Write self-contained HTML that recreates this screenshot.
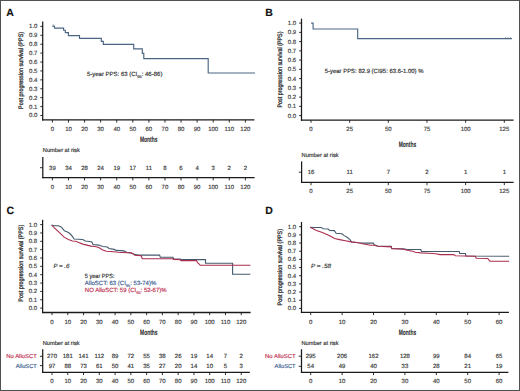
<!DOCTYPE html>
<html><head><meta charset="utf-8"><title>PPS figure</title>
<style>
html,body{margin:0;padding:0;background:#fff;}
body{width:520px;height:391px;overflow:hidden;}
svg{display:block;font-family:"Liberation Sans", sans-serif;text-rendering:geometricPrecision;}
</style></head>
<body>
<svg width="520" height="391" viewBox="0 0 520 391">
<rect x="0" y="0" width="520" height="391" fill="#fff"/>
<rect x="0.5" y="0.5" width="519" height="390" fill="none" stroke="#505050" stroke-width="1"/>
<text x="6.3" y="15.7" font-size="10.5" text-anchor="start" fill="#111" stroke="#111" stroke-width="0.15" font-weight="bold" >A</text>
<line x1="42.7" y1="21.5" x2="42.7" y2="120.55" stroke="#1a1a1a" stroke-width="1.25"/>
<line x1="42.1" y1="119.9" x2="254.4" y2="119.9" stroke="#1a1a1a" stroke-width="1.3"/>
<line x1="40.3" y1="26.4" x2="42.7" y2="26.4" stroke="#1a1a1a" stroke-width="0.9"/>
<text x="37.4" y="28.31" font-size="6" text-anchor="end" fill="#3a3a3a" stroke="#3a3a3a" stroke-width="0.15" >1.0</text>
<line x1="40.3" y1="35.31" x2="42.7" y2="35.31" stroke="#1a1a1a" stroke-width="0.9"/>
<text x="37.4" y="37.22" font-size="6" text-anchor="end" fill="#3a3a3a" stroke="#3a3a3a" stroke-width="0.15" >0.9</text>
<line x1="40.3" y1="44.22" x2="42.7" y2="44.22" stroke="#1a1a1a" stroke-width="0.9"/>
<text x="37.4" y="46.13" font-size="6" text-anchor="end" fill="#3a3a3a" stroke="#3a3a3a" stroke-width="0.15" >0.8</text>
<line x1="40.3" y1="53.13" x2="42.7" y2="53.13" stroke="#1a1a1a" stroke-width="0.9"/>
<text x="37.4" y="55.04" font-size="6" text-anchor="end" fill="#3a3a3a" stroke="#3a3a3a" stroke-width="0.15" >0.7</text>
<line x1="40.3" y1="62.04" x2="42.7" y2="62.04" stroke="#1a1a1a" stroke-width="0.9"/>
<text x="37.4" y="63.95" font-size="6" text-anchor="end" fill="#3a3a3a" stroke="#3a3a3a" stroke-width="0.15" >0.6</text>
<line x1="40.3" y1="70.95" x2="42.7" y2="70.95" stroke="#1a1a1a" stroke-width="0.9"/>
<text x="37.4" y="72.86" font-size="6" text-anchor="end" fill="#3a3a3a" stroke="#3a3a3a" stroke-width="0.15" >0.5</text>
<line x1="40.3" y1="79.86" x2="42.7" y2="79.86" stroke="#1a1a1a" stroke-width="0.9"/>
<text x="37.4" y="81.77" font-size="6" text-anchor="end" fill="#3a3a3a" stroke="#3a3a3a" stroke-width="0.15" >0.4</text>
<line x1="40.3" y1="88.77" x2="42.7" y2="88.77" stroke="#1a1a1a" stroke-width="0.9"/>
<text x="37.4" y="90.68" font-size="6" text-anchor="end" fill="#3a3a3a" stroke="#3a3a3a" stroke-width="0.15" >0.3</text>
<line x1="40.3" y1="97.68" x2="42.7" y2="97.68" stroke="#1a1a1a" stroke-width="0.9"/>
<text x="37.4" y="99.59" font-size="6" text-anchor="end" fill="#3a3a3a" stroke="#3a3a3a" stroke-width="0.15" >0.2</text>
<line x1="40.3" y1="106.59" x2="42.7" y2="106.59" stroke="#1a1a1a" stroke-width="0.9"/>
<text x="37.4" y="108.5" font-size="6" text-anchor="end" fill="#3a3a3a" stroke="#3a3a3a" stroke-width="0.15" >0.1</text>
<line x1="40.3" y1="115.5" x2="42.7" y2="115.5" stroke="#1a1a1a" stroke-width="0.9"/>
<text x="37.4" y="117.41" font-size="6" text-anchor="end" fill="#3a3a3a" stroke="#3a3a3a" stroke-width="0.15" >0.0</text>
<line x1="52.4" y1="119.9" x2="52.4" y2="122.6" stroke="#1a1a1a" stroke-width="0.9"/>
<text x="52.4" y="131.06" font-size="6" text-anchor="middle" fill="#3a3a3a" stroke="#3a3a3a" stroke-width="0.15" >0</text>
<line x1="68.48" y1="119.9" x2="68.48" y2="122.6" stroke="#1a1a1a" stroke-width="0.9"/>
<text x="68.48" y="131.06" font-size="6" text-anchor="middle" fill="#3a3a3a" stroke="#3a3a3a" stroke-width="0.15" >10</text>
<line x1="84.56" y1="119.9" x2="84.56" y2="122.6" stroke="#1a1a1a" stroke-width="0.9"/>
<text x="84.56" y="131.06" font-size="6" text-anchor="middle" fill="#3a3a3a" stroke="#3a3a3a" stroke-width="0.15" >20</text>
<line x1="100.64" y1="119.9" x2="100.64" y2="122.6" stroke="#1a1a1a" stroke-width="0.9"/>
<text x="100.64" y="131.06" font-size="6" text-anchor="middle" fill="#3a3a3a" stroke="#3a3a3a" stroke-width="0.15" >30</text>
<line x1="116.72" y1="119.9" x2="116.72" y2="122.6" stroke="#1a1a1a" stroke-width="0.9"/>
<text x="116.72" y="131.06" font-size="6" text-anchor="middle" fill="#3a3a3a" stroke="#3a3a3a" stroke-width="0.15" >40</text>
<line x1="132.8" y1="119.9" x2="132.8" y2="122.6" stroke="#1a1a1a" stroke-width="0.9"/>
<text x="132.8" y="131.06" font-size="6" text-anchor="middle" fill="#3a3a3a" stroke="#3a3a3a" stroke-width="0.15" >50</text>
<line x1="148.88" y1="119.9" x2="148.88" y2="122.6" stroke="#1a1a1a" stroke-width="0.9"/>
<text x="148.88" y="131.06" font-size="6" text-anchor="middle" fill="#3a3a3a" stroke="#3a3a3a" stroke-width="0.15" >60</text>
<line x1="164.96" y1="119.9" x2="164.96" y2="122.6" stroke="#1a1a1a" stroke-width="0.9"/>
<text x="164.96" y="131.06" font-size="6" text-anchor="middle" fill="#3a3a3a" stroke="#3a3a3a" stroke-width="0.15" >70</text>
<line x1="181.04" y1="119.9" x2="181.04" y2="122.6" stroke="#1a1a1a" stroke-width="0.9"/>
<text x="181.04" y="131.06" font-size="6" text-anchor="middle" fill="#3a3a3a" stroke="#3a3a3a" stroke-width="0.15" >80</text>
<line x1="197.12" y1="119.9" x2="197.12" y2="122.6" stroke="#1a1a1a" stroke-width="0.9"/>
<text x="197.12" y="131.06" font-size="6" text-anchor="middle" fill="#3a3a3a" stroke="#3a3a3a" stroke-width="0.15" >90</text>
<line x1="213.2" y1="119.9" x2="213.2" y2="122.6" stroke="#1a1a1a" stroke-width="0.9"/>
<text x="213.2" y="131.06" font-size="6" text-anchor="middle" fill="#3a3a3a" stroke="#3a3a3a" stroke-width="0.15" >100</text>
<line x1="229.28" y1="119.9" x2="229.28" y2="122.6" stroke="#1a1a1a" stroke-width="0.9"/>
<text x="229.28" y="131.06" font-size="6" text-anchor="middle" fill="#3a3a3a" stroke="#3a3a3a" stroke-width="0.15" >110</text>
<line x1="245.36" y1="119.9" x2="245.36" y2="122.6" stroke="#1a1a1a" stroke-width="0.9"/>
<text x="245.36" y="131.06" font-size="6" text-anchor="middle" fill="#3a3a3a" stroke="#3a3a3a" stroke-width="0.15" >120</text>
<text x="148.7" y="141.81" font-size="7.8" text-anchor="middle" fill="#222" stroke="#222" stroke-width="0.05" font-weight="bold" textLength="17.5" lengthAdjust="spacingAndGlyphs" >Months</text>
<text x="0" y="0" font-size="6.5" text-anchor="middle" fill="#2a2a2a" stroke="#2a2a2a" stroke-width="0.28" textLength="77" lengthAdjust="spacingAndGlyphs" transform="translate(22.8,70.4) rotate(-90)">Post progression survival (PPS)</text>
<polyline points="52.3,26.2 54.5,26.2 54.5,28.1 63.6,28.1 63.6,30.2 65.3,30.2 65.3,32.6 68.4,32.6 68.4,35.6 79.5,35.6 79.5,38.3 101.3,38.3 101.3,41.3 103.3,41.3 103.3,44.4 133.7,44.4 133.7,48.9 142.3,48.9 142.3,53.3 143.8,53.3 143.8,58.6 208.2,58.6 208.2,73 255,73 255,73" fill="none" stroke="#4b6684" stroke-width="1.15" stroke-linejoin="miter"/>
<line x1="53.1" y1="24.6" x2="53.1" y2="26.4" stroke="#4b6684" stroke-width="0.8"/>
<text x="86.9" y="76.16" font-size="6" text-anchor="start" fill="#2a2a2a" stroke="#2a2a2a" stroke-width="0.15" >5-year PPS: 63 (CI<tspan font-size="4" dy="1.5">95</tspan><tspan dy="-1.5">: 46-86)</tspan></text>
<text x="42.8" y="152.49" font-size="5.8" text-anchor="start" fill="#2a2a2a" stroke="#2a2a2a" stroke-width="0.15" textLength="37" lengthAdjust="spacingAndGlyphs" >Number at risk</text>
<line x1="42.8" y1="157" x2="42.8" y2="178.25" stroke="#1a1a1a" stroke-width="1.25"/>
<line x1="42.2" y1="177.6" x2="254.6" y2="177.6" stroke="#1a1a1a" stroke-width="1.3"/>
<line x1="40" y1="167.7" x2="42.8" y2="167.7" stroke="#1a1a1a" stroke-width="0.9"/>
<text x="52.4" y="169.81" font-size="6" text-anchor="middle" fill="#333" stroke="#333" stroke-width="0.15" >39</text>
<text x="68.48" y="169.81" font-size="6" text-anchor="middle" fill="#333" stroke="#333" stroke-width="0.15" >34</text>
<text x="84.56" y="169.81" font-size="6" text-anchor="middle" fill="#333" stroke="#333" stroke-width="0.15" >28</text>
<text x="100.64" y="169.81" font-size="6" text-anchor="middle" fill="#333" stroke="#333" stroke-width="0.15" >24</text>
<text x="116.72" y="169.81" font-size="6" text-anchor="middle" fill="#333" stroke="#333" stroke-width="0.15" >19</text>
<text x="132.8" y="169.81" font-size="6" text-anchor="middle" fill="#333" stroke="#333" stroke-width="0.15" >17</text>
<text x="148.88" y="169.81" font-size="6" text-anchor="middle" fill="#333" stroke="#333" stroke-width="0.15" >11</text>
<text x="164.96" y="169.81" font-size="6" text-anchor="middle" fill="#333" stroke="#333" stroke-width="0.15" >8</text>
<text x="181.04" y="169.81" font-size="6" text-anchor="middle" fill="#333" stroke="#333" stroke-width="0.15" >6</text>
<text x="197.12" y="169.81" font-size="6" text-anchor="middle" fill="#333" stroke="#333" stroke-width="0.15" >4</text>
<text x="213.2" y="169.81" font-size="6" text-anchor="middle" fill="#333" stroke="#333" stroke-width="0.15" >3</text>
<text x="229.28" y="169.81" font-size="6" text-anchor="middle" fill="#333" stroke="#333" stroke-width="0.15" >2</text>
<text x="245.36" y="169.81" font-size="6" text-anchor="middle" fill="#333" stroke="#333" stroke-width="0.15" >2</text>
<line x1="52.4" y1="177.6" x2="52.4" y2="180.4" stroke="#1a1a1a" stroke-width="0.9"/>
<text x="52.4" y="188.96" font-size="6" text-anchor="middle" fill="#3a3a3a" stroke="#3a3a3a" stroke-width="0.15" >0</text>
<line x1="68.48" y1="177.6" x2="68.48" y2="180.4" stroke="#1a1a1a" stroke-width="0.9"/>
<text x="68.48" y="188.96" font-size="6" text-anchor="middle" fill="#3a3a3a" stroke="#3a3a3a" stroke-width="0.15" >10</text>
<line x1="84.56" y1="177.6" x2="84.56" y2="180.4" stroke="#1a1a1a" stroke-width="0.9"/>
<text x="84.56" y="188.96" font-size="6" text-anchor="middle" fill="#3a3a3a" stroke="#3a3a3a" stroke-width="0.15" >20</text>
<line x1="100.64" y1="177.6" x2="100.64" y2="180.4" stroke="#1a1a1a" stroke-width="0.9"/>
<text x="100.64" y="188.96" font-size="6" text-anchor="middle" fill="#3a3a3a" stroke="#3a3a3a" stroke-width="0.15" >30</text>
<line x1="116.72" y1="177.6" x2="116.72" y2="180.4" stroke="#1a1a1a" stroke-width="0.9"/>
<text x="116.72" y="188.96" font-size="6" text-anchor="middle" fill="#3a3a3a" stroke="#3a3a3a" stroke-width="0.15" >40</text>
<line x1="132.8" y1="177.6" x2="132.8" y2="180.4" stroke="#1a1a1a" stroke-width="0.9"/>
<text x="132.8" y="188.96" font-size="6" text-anchor="middle" fill="#3a3a3a" stroke="#3a3a3a" stroke-width="0.15" >50</text>
<line x1="148.88" y1="177.6" x2="148.88" y2="180.4" stroke="#1a1a1a" stroke-width="0.9"/>
<text x="148.88" y="188.96" font-size="6" text-anchor="middle" fill="#3a3a3a" stroke="#3a3a3a" stroke-width="0.15" >60</text>
<line x1="164.96" y1="177.6" x2="164.96" y2="180.4" stroke="#1a1a1a" stroke-width="0.9"/>
<text x="164.96" y="188.96" font-size="6" text-anchor="middle" fill="#3a3a3a" stroke="#3a3a3a" stroke-width="0.15" >70</text>
<line x1="181.04" y1="177.6" x2="181.04" y2="180.4" stroke="#1a1a1a" stroke-width="0.9"/>
<text x="181.04" y="188.96" font-size="6" text-anchor="middle" fill="#3a3a3a" stroke="#3a3a3a" stroke-width="0.15" >80</text>
<line x1="197.12" y1="177.6" x2="197.12" y2="180.4" stroke="#1a1a1a" stroke-width="0.9"/>
<text x="197.12" y="188.96" font-size="6" text-anchor="middle" fill="#3a3a3a" stroke="#3a3a3a" stroke-width="0.15" >90</text>
<line x1="213.2" y1="177.6" x2="213.2" y2="180.4" stroke="#1a1a1a" stroke-width="0.9"/>
<text x="213.2" y="188.96" font-size="6" text-anchor="middle" fill="#3a3a3a" stroke="#3a3a3a" stroke-width="0.15" >100</text>
<line x1="229.28" y1="177.6" x2="229.28" y2="180.4" stroke="#1a1a1a" stroke-width="0.9"/>
<text x="229.28" y="188.96" font-size="6" text-anchor="middle" fill="#3a3a3a" stroke="#3a3a3a" stroke-width="0.15" >110</text>
<line x1="245.36" y1="177.6" x2="245.36" y2="180.4" stroke="#1a1a1a" stroke-width="0.9"/>
<text x="245.36" y="188.96" font-size="6" text-anchor="middle" fill="#3a3a3a" stroke="#3a3a3a" stroke-width="0.15" >120</text>
<text x="265.2" y="15.7" font-size="10.5" text-anchor="start" fill="#111" stroke="#111" stroke-width="0.15" font-weight="bold" >B</text>
<line x1="301.5" y1="18.6" x2="301.5" y2="120.75" stroke="#1a1a1a" stroke-width="1.25"/>
<line x1="300.9" y1="120.1" x2="513.6" y2="120.1" stroke="#1a1a1a" stroke-width="1.3"/>
<line x1="299.1" y1="23.1" x2="301.5" y2="23.1" stroke="#1a1a1a" stroke-width="0.9"/>
<text x="296.2" y="25.01" font-size="6" text-anchor="end" fill="#3a3a3a" stroke="#3a3a3a" stroke-width="0.15" >1.0</text>
<line x1="299.1" y1="32.35" x2="301.5" y2="32.35" stroke="#1a1a1a" stroke-width="0.9"/>
<text x="296.2" y="34.26" font-size="6" text-anchor="end" fill="#3a3a3a" stroke="#3a3a3a" stroke-width="0.15" >0.9</text>
<line x1="299.1" y1="41.6" x2="301.5" y2="41.6" stroke="#1a1a1a" stroke-width="0.9"/>
<text x="296.2" y="43.51" font-size="6" text-anchor="end" fill="#3a3a3a" stroke="#3a3a3a" stroke-width="0.15" >0.8</text>
<line x1="299.1" y1="50.85" x2="301.5" y2="50.85" stroke="#1a1a1a" stroke-width="0.9"/>
<text x="296.2" y="52.76" font-size="6" text-anchor="end" fill="#3a3a3a" stroke="#3a3a3a" stroke-width="0.15" >0.7</text>
<line x1="299.1" y1="60.1" x2="301.5" y2="60.1" stroke="#1a1a1a" stroke-width="0.9"/>
<text x="296.2" y="62.01" font-size="6" text-anchor="end" fill="#3a3a3a" stroke="#3a3a3a" stroke-width="0.15" >0.6</text>
<line x1="299.1" y1="69.35" x2="301.5" y2="69.35" stroke="#1a1a1a" stroke-width="0.9"/>
<text x="296.2" y="71.26" font-size="6" text-anchor="end" fill="#3a3a3a" stroke="#3a3a3a" stroke-width="0.15" >0.5</text>
<line x1="299.1" y1="78.6" x2="301.5" y2="78.6" stroke="#1a1a1a" stroke-width="0.9"/>
<text x="296.2" y="80.51" font-size="6" text-anchor="end" fill="#3a3a3a" stroke="#3a3a3a" stroke-width="0.15" >0.4</text>
<line x1="299.1" y1="87.85" x2="301.5" y2="87.85" stroke="#1a1a1a" stroke-width="0.9"/>
<text x="296.2" y="89.76" font-size="6" text-anchor="end" fill="#3a3a3a" stroke="#3a3a3a" stroke-width="0.15" >0.3</text>
<line x1="299.1" y1="97.1" x2="301.5" y2="97.1" stroke="#1a1a1a" stroke-width="0.9"/>
<text x="296.2" y="99.01" font-size="6" text-anchor="end" fill="#3a3a3a" stroke="#3a3a3a" stroke-width="0.15" >0.2</text>
<line x1="299.1" y1="106.35" x2="301.5" y2="106.35" stroke="#1a1a1a" stroke-width="0.9"/>
<text x="296.2" y="108.26" font-size="6" text-anchor="end" fill="#3a3a3a" stroke="#3a3a3a" stroke-width="0.15" >0.1</text>
<line x1="299.1" y1="115.6" x2="301.5" y2="115.6" stroke="#1a1a1a" stroke-width="0.9"/>
<text x="296.2" y="117.51" font-size="6" text-anchor="end" fill="#3a3a3a" stroke="#3a3a3a" stroke-width="0.15" >0.0</text>
<line x1="311" y1="120.1" x2="311" y2="122.8" stroke="#1a1a1a" stroke-width="0.9"/>
<text x="311" y="131.26" font-size="6" text-anchor="middle" fill="#3a3a3a" stroke="#3a3a3a" stroke-width="0.15" >0</text>
<line x1="349.66" y1="120.1" x2="349.66" y2="122.8" stroke="#1a1a1a" stroke-width="0.9"/>
<text x="349.66" y="131.26" font-size="6" text-anchor="middle" fill="#3a3a3a" stroke="#3a3a3a" stroke-width="0.15" >25</text>
<line x1="388.32" y1="120.1" x2="388.32" y2="122.8" stroke="#1a1a1a" stroke-width="0.9"/>
<text x="388.32" y="131.26" font-size="6" text-anchor="middle" fill="#3a3a3a" stroke="#3a3a3a" stroke-width="0.15" >50</text>
<line x1="426.98" y1="120.1" x2="426.98" y2="122.8" stroke="#1a1a1a" stroke-width="0.9"/>
<text x="426.98" y="131.26" font-size="6" text-anchor="middle" fill="#3a3a3a" stroke="#3a3a3a" stroke-width="0.15" >75</text>
<line x1="465.64" y1="120.1" x2="465.64" y2="122.8" stroke="#1a1a1a" stroke-width="0.9"/>
<text x="465.64" y="131.26" font-size="6" text-anchor="middle" fill="#3a3a3a" stroke="#3a3a3a" stroke-width="0.15" >100</text>
<line x1="504.3" y1="120.1" x2="504.3" y2="122.8" stroke="#1a1a1a" stroke-width="0.9"/>
<text x="504.3" y="131.26" font-size="6" text-anchor="middle" fill="#3a3a3a" stroke="#3a3a3a" stroke-width="0.15" >125</text>
<text x="407.4" y="146.51" font-size="7.8" text-anchor="middle" fill="#222" stroke="#222" stroke-width="0.05" font-weight="bold" textLength="17.5" lengthAdjust="spacingAndGlyphs" >Months</text>
<text x="0" y="0" font-size="6.5" text-anchor="middle" fill="#2a2a2a" stroke="#2a2a2a" stroke-width="0.28" textLength="76" lengthAdjust="spacingAndGlyphs" transform="translate(282.1,69.5) rotate(-90)">Post progression survival (PPS)</text>
<polyline points="311.1,23.1 313.1,23.1 313.1,29 357.7,29 357.7,38.6 511.9,38.6 511.9,38.6" fill="none" stroke="#4b6684" stroke-width="1.15" stroke-linejoin="miter"/>
<line x1="505.5" y1="37.3" x2="505.5" y2="38.6" stroke="#4b6684" stroke-width="0.7"/>
<line x1="508" y1="37.3" x2="508" y2="38.6" stroke="#4b6684" stroke-width="0.7"/>
<line x1="510.5" y1="37.3" x2="510.5" y2="38.6" stroke="#4b6684" stroke-width="0.7"/>
<text x="324.7" y="73.26" font-size="6" text-anchor="start" fill="#2a2a2a" stroke="#2a2a2a" stroke-width="0.15" textLength="98.8" lengthAdjust="spacingAndGlyphs" >5-year PPS: 82.9 (CI95: 63.6-1.00) %</text>
<text x="301.6" y="157.09" font-size="5.8" text-anchor="start" fill="#2a2a2a" stroke="#2a2a2a" stroke-width="0.15" textLength="37" lengthAdjust="spacingAndGlyphs" >Number at risk</text>
<line x1="301.6" y1="161.4" x2="301.6" y2="183.05" stroke="#1a1a1a" stroke-width="1.25"/>
<line x1="301" y1="182.4" x2="513.6" y2="182.4" stroke="#1a1a1a" stroke-width="1.3"/>
<line x1="298.8" y1="172.2" x2="301.6" y2="172.2" stroke="#1a1a1a" stroke-width="0.9"/>
<text x="311" y="174.31" font-size="6" text-anchor="middle" fill="#333" stroke="#333" stroke-width="0.15" >16</text>
<text x="349.66" y="174.31" font-size="6" text-anchor="middle" fill="#333" stroke="#333" stroke-width="0.15" >11</text>
<text x="388.32" y="174.31" font-size="6" text-anchor="middle" fill="#333" stroke="#333" stroke-width="0.15" >7</text>
<text x="426.98" y="174.31" font-size="6" text-anchor="middle" fill="#333" stroke="#333" stroke-width="0.15" >2</text>
<text x="465.64" y="174.31" font-size="6" text-anchor="middle" fill="#333" stroke="#333" stroke-width="0.15" >1</text>
<text x="504.3" y="174.31" font-size="6" text-anchor="middle" fill="#333" stroke="#333" stroke-width="0.15" >1</text>
<line x1="311" y1="182.4" x2="311" y2="185.2" stroke="#1a1a1a" stroke-width="0.9"/>
<text x="311" y="193.16" font-size="6" text-anchor="middle" fill="#3a3a3a" stroke="#3a3a3a" stroke-width="0.15" >0</text>
<line x1="349.66" y1="182.4" x2="349.66" y2="185.2" stroke="#1a1a1a" stroke-width="0.9"/>
<text x="349.66" y="193.16" font-size="6" text-anchor="middle" fill="#3a3a3a" stroke="#3a3a3a" stroke-width="0.15" >25</text>
<line x1="388.32" y1="182.4" x2="388.32" y2="185.2" stroke="#1a1a1a" stroke-width="0.9"/>
<text x="388.32" y="193.16" font-size="6" text-anchor="middle" fill="#3a3a3a" stroke="#3a3a3a" stroke-width="0.15" >50</text>
<line x1="426.98" y1="182.4" x2="426.98" y2="185.2" stroke="#1a1a1a" stroke-width="0.9"/>
<text x="426.98" y="193.16" font-size="6" text-anchor="middle" fill="#3a3a3a" stroke="#3a3a3a" stroke-width="0.15" >75</text>
<line x1="465.64" y1="182.4" x2="465.64" y2="185.2" stroke="#1a1a1a" stroke-width="0.9"/>
<text x="465.64" y="193.16" font-size="6" text-anchor="middle" fill="#3a3a3a" stroke="#3a3a3a" stroke-width="0.15" >100</text>
<line x1="504.3" y1="182.4" x2="504.3" y2="185.2" stroke="#1a1a1a" stroke-width="0.9"/>
<text x="504.3" y="193.16" font-size="6" text-anchor="middle" fill="#3a3a3a" stroke="#3a3a3a" stroke-width="0.15" >125</text>
<text x="6.5" y="213.9" font-size="10.5" text-anchor="start" fill="#111" stroke="#111" stroke-width="0.15" font-weight="bold" >C</text>
<line x1="42.6" y1="219.8" x2="42.6" y2="313.15" stroke="#1a1a1a" stroke-width="1.25"/>
<line x1="42" y1="312.5" x2="250.6" y2="312.5" stroke="#1a1a1a" stroke-width="1.3"/>
<line x1="40.2" y1="224.6" x2="42.6" y2="224.6" stroke="#1a1a1a" stroke-width="0.9"/>
<text x="37" y="226.51" font-size="6" text-anchor="end" fill="#3a3a3a" stroke="#3a3a3a" stroke-width="0.15" >1.0</text>
<line x1="40.2" y1="232.95" x2="42.6" y2="232.95" stroke="#1a1a1a" stroke-width="0.9"/>
<text x="37" y="234.86" font-size="6" text-anchor="end" fill="#3a3a3a" stroke="#3a3a3a" stroke-width="0.15" >0.9</text>
<line x1="40.2" y1="241.3" x2="42.6" y2="241.3" stroke="#1a1a1a" stroke-width="0.9"/>
<text x="37" y="243.21" font-size="6" text-anchor="end" fill="#3a3a3a" stroke="#3a3a3a" stroke-width="0.15" >0.8</text>
<line x1="40.2" y1="249.65" x2="42.6" y2="249.65" stroke="#1a1a1a" stroke-width="0.9"/>
<text x="37" y="251.56" font-size="6" text-anchor="end" fill="#3a3a3a" stroke="#3a3a3a" stroke-width="0.15" >0.7</text>
<line x1="40.2" y1="258" x2="42.6" y2="258" stroke="#1a1a1a" stroke-width="0.9"/>
<text x="37" y="259.91" font-size="6" text-anchor="end" fill="#3a3a3a" stroke="#3a3a3a" stroke-width="0.15" >0.6</text>
<line x1="40.2" y1="266.35" x2="42.6" y2="266.35" stroke="#1a1a1a" stroke-width="0.9"/>
<text x="37" y="268.26" font-size="6" text-anchor="end" fill="#3a3a3a" stroke="#3a3a3a" stroke-width="0.15" >0.5</text>
<line x1="40.2" y1="274.7" x2="42.6" y2="274.7" stroke="#1a1a1a" stroke-width="0.9"/>
<text x="37" y="276.61" font-size="6" text-anchor="end" fill="#3a3a3a" stroke="#3a3a3a" stroke-width="0.15" >0.4</text>
<line x1="40.2" y1="283.05" x2="42.6" y2="283.05" stroke="#1a1a1a" stroke-width="0.9"/>
<text x="37" y="284.96" font-size="6" text-anchor="end" fill="#3a3a3a" stroke="#3a3a3a" stroke-width="0.15" >0.3</text>
<line x1="40.2" y1="291.4" x2="42.6" y2="291.4" stroke="#1a1a1a" stroke-width="0.9"/>
<text x="37" y="293.31" font-size="6" text-anchor="end" fill="#3a3a3a" stroke="#3a3a3a" stroke-width="0.15" >0.2</text>
<line x1="40.2" y1="299.75" x2="42.6" y2="299.75" stroke="#1a1a1a" stroke-width="0.9"/>
<text x="37" y="301.66" font-size="6" text-anchor="end" fill="#3a3a3a" stroke="#3a3a3a" stroke-width="0.15" >0.1</text>
<line x1="40.2" y1="308.1" x2="42.6" y2="308.1" stroke="#1a1a1a" stroke-width="0.9"/>
<text x="37" y="310.01" font-size="6" text-anchor="end" fill="#3a3a3a" stroke="#3a3a3a" stroke-width="0.15" >0.0</text>
<line x1="52" y1="312.5" x2="52" y2="315.2" stroke="#1a1a1a" stroke-width="0.9"/>
<text x="52" y="323.66" font-size="6" text-anchor="middle" fill="#3a3a3a" stroke="#3a3a3a" stroke-width="0.15" >0</text>
<line x1="67.77" y1="312.5" x2="67.77" y2="315.2" stroke="#1a1a1a" stroke-width="0.9"/>
<text x="67.77" y="323.66" font-size="6" text-anchor="middle" fill="#3a3a3a" stroke="#3a3a3a" stroke-width="0.15" >10</text>
<line x1="83.54" y1="312.5" x2="83.54" y2="315.2" stroke="#1a1a1a" stroke-width="0.9"/>
<text x="83.54" y="323.66" font-size="6" text-anchor="middle" fill="#3a3a3a" stroke="#3a3a3a" stroke-width="0.15" >20</text>
<line x1="99.31" y1="312.5" x2="99.31" y2="315.2" stroke="#1a1a1a" stroke-width="0.9"/>
<text x="99.31" y="323.66" font-size="6" text-anchor="middle" fill="#3a3a3a" stroke="#3a3a3a" stroke-width="0.15" >30</text>
<line x1="115.08" y1="312.5" x2="115.08" y2="315.2" stroke="#1a1a1a" stroke-width="0.9"/>
<text x="115.08" y="323.66" font-size="6" text-anchor="middle" fill="#3a3a3a" stroke="#3a3a3a" stroke-width="0.15" >40</text>
<line x1="130.85" y1="312.5" x2="130.85" y2="315.2" stroke="#1a1a1a" stroke-width="0.9"/>
<text x="130.85" y="323.66" font-size="6" text-anchor="middle" fill="#3a3a3a" stroke="#3a3a3a" stroke-width="0.15" >50</text>
<line x1="146.62" y1="312.5" x2="146.62" y2="315.2" stroke="#1a1a1a" stroke-width="0.9"/>
<text x="146.62" y="323.66" font-size="6" text-anchor="middle" fill="#3a3a3a" stroke="#3a3a3a" stroke-width="0.15" >60</text>
<line x1="162.39" y1="312.5" x2="162.39" y2="315.2" stroke="#1a1a1a" stroke-width="0.9"/>
<text x="162.39" y="323.66" font-size="6" text-anchor="middle" fill="#3a3a3a" stroke="#3a3a3a" stroke-width="0.15" >70</text>
<line x1="178.16" y1="312.5" x2="178.16" y2="315.2" stroke="#1a1a1a" stroke-width="0.9"/>
<text x="178.16" y="323.66" font-size="6" text-anchor="middle" fill="#3a3a3a" stroke="#3a3a3a" stroke-width="0.15" >80</text>
<line x1="193.93" y1="312.5" x2="193.93" y2="315.2" stroke="#1a1a1a" stroke-width="0.9"/>
<text x="193.93" y="323.66" font-size="6" text-anchor="middle" fill="#3a3a3a" stroke="#3a3a3a" stroke-width="0.15" >90</text>
<line x1="209.7" y1="312.5" x2="209.7" y2="315.2" stroke="#1a1a1a" stroke-width="0.9"/>
<text x="209.7" y="323.66" font-size="6" text-anchor="middle" fill="#3a3a3a" stroke="#3a3a3a" stroke-width="0.15" >100</text>
<line x1="225.47" y1="312.5" x2="225.47" y2="315.2" stroke="#1a1a1a" stroke-width="0.9"/>
<text x="225.47" y="323.66" font-size="6" text-anchor="middle" fill="#3a3a3a" stroke="#3a3a3a" stroke-width="0.15" >110</text>
<line x1="241.24" y1="312.5" x2="241.24" y2="315.2" stroke="#1a1a1a" stroke-width="0.9"/>
<text x="241.24" y="323.66" font-size="6" text-anchor="middle" fill="#3a3a3a" stroke="#3a3a3a" stroke-width="0.15" >120</text>
<text x="148.8" y="335.11" font-size="7.8" text-anchor="middle" fill="#222" stroke="#222" stroke-width="0.05" font-weight="bold" textLength="17.5" lengthAdjust="spacingAndGlyphs" >Months</text>
<text x="0" y="0" font-size="6.5" text-anchor="middle" fill="#2a2a2a" stroke="#2a2a2a" stroke-width="0.28" textLength="77" lengthAdjust="spacingAndGlyphs" transform="translate(22.7,263.2) rotate(-90)">Post progression survival (PPS)</text>
<polyline points="51.6,225 54.1,225.7 58.2,225.7 60.8,226.7 62.3,228.2 64.4,230.8 66.9,231.8 69.5,233.3 72,235.9 74.1,239 78.7,239.3 82.8,239.5 85.3,241 89.4,241.5 92,242 93,244.6 98.8,245.1 102.7,246.5 107.5,247 108.9,248.5 114.2,249.4 116.2,250.4 123.8,250.9 126.7,252.3 131.5,253.3 134.4,254.2 138.3,255.1 159.6,255.1 160.3,257.1 172.9,257.3 173.6,258.8 180.4,259 181,259.6 205.5,259.6 205.5,263.3 232.6,263.3 232.6,274.2 250.4,274.2" fill="none" stroke="#44596e" stroke-width="1.1" stroke-linejoin="miter"/>
<polyline points="51.6,225 54.1,227.7 58.2,231.3 61.3,234.4 64.4,237.4 68.4,239.5 72.5,241 75.6,241.3 78.7,242.5 82.8,244.1 86.9,245.1 91,246.1 95,246.5 98.8,247.5 102.7,249.9 106.5,251.3 114.2,251.8 118.1,252.3 126.7,252.8 131.5,252.8 134.8,255.2 141.2,255.7 142.3,258.8 172.9,258.8 173.4,259.4 180.4,259.8 181,260.6 196.5,260.6 197.7,262.9 199,263.8 200.2,265.3 250.4,265.3" fill="none" stroke="#aa2d4e" stroke-width="1.1" stroke-linejoin="miter"/>
<text x="53.5" y="268.46" font-size="6" text-anchor="start" fill="#333" stroke="#333" stroke-width="0.15" font-style="italic" textLength="16" lengthAdjust="spacingAndGlyphs" >P = .6</text>
<text x="84.8" y="277.76" font-size="6" text-anchor="start" fill="#2a2a2a" stroke="#2a2a2a" stroke-width="0.15" textLength="29.8" lengthAdjust="spacingAndGlyphs" >5 year PPS:</text>
<text x="84.8" y="285.46" font-size="6" text-anchor="start" fill="#33578c" stroke="#33578c" stroke-width="0.15" >AlloSCT: 63 (CI<tspan font-size="4" dy="1.5">95</tspan><tspan dy="-1.5">: 53-74)%</tspan></text>
<text x="84.8" y="292.36" font-size="6" text-anchor="start" fill="#c02a4c" stroke="#c02a4c" stroke-width="0.15" >NO AlloSCT: 59 (CI<tspan font-size="4" dy="1.5">95</tspan><tspan dy="-1.5">: 52-67)%</tspan></text>
<text x="42.7" y="345.09" font-size="5.8" text-anchor="start" fill="#2a2a2a" stroke="#2a2a2a" stroke-width="0.15" textLength="37" lengthAdjust="spacingAndGlyphs" >Number at risk</text>
<line x1="42.7" y1="349.3" x2="42.7" y2="372.95" stroke="#1a1a1a" stroke-width="1.25"/>
<line x1="42.1" y1="372.3" x2="249.8" y2="372.3" stroke="#1a1a1a" stroke-width="1.3"/>
<line x1="39.9" y1="356.3" x2="42.7" y2="356.3" stroke="#1a1a1a" stroke-width="0.9"/>
<text x="36.8" y="358.39" font-size="5.8" text-anchor="end" fill="#c02a4c" stroke="#c02a4c" stroke-width="0.15" textLength="30.5" lengthAdjust="spacingAndGlyphs" >No AlloSCT</text>
<text x="52" y="358.41" font-size="6" text-anchor="middle" fill="#333" stroke="#333" stroke-width="0.15" >270</text>
<text x="67.77" y="358.41" font-size="6" text-anchor="middle" fill="#333" stroke="#333" stroke-width="0.15" >181</text>
<text x="83.54" y="358.41" font-size="6" text-anchor="middle" fill="#333" stroke="#333" stroke-width="0.15" >141</text>
<text x="99.31" y="358.41" font-size="6" text-anchor="middle" fill="#333" stroke="#333" stroke-width="0.15" >112</text>
<text x="115.08" y="358.41" font-size="6" text-anchor="middle" fill="#333" stroke="#333" stroke-width="0.15" >89</text>
<text x="130.85" y="358.41" font-size="6" text-anchor="middle" fill="#333" stroke="#333" stroke-width="0.15" >72</text>
<text x="146.62" y="358.41" font-size="6" text-anchor="middle" fill="#333" stroke="#333" stroke-width="0.15" >55</text>
<text x="162.39" y="358.41" font-size="6" text-anchor="middle" fill="#333" stroke="#333" stroke-width="0.15" >38</text>
<text x="178.16" y="358.41" font-size="6" text-anchor="middle" fill="#333" stroke="#333" stroke-width="0.15" >26</text>
<text x="193.93" y="358.41" font-size="6" text-anchor="middle" fill="#333" stroke="#333" stroke-width="0.15" >19</text>
<text x="209.7" y="358.41" font-size="6" text-anchor="middle" fill="#333" stroke="#333" stroke-width="0.15" >14</text>
<text x="225.47" y="358.41" font-size="6" text-anchor="middle" fill="#333" stroke="#333" stroke-width="0.15" >7</text>
<text x="241.24" y="358.41" font-size="6" text-anchor="middle" fill="#333" stroke="#333" stroke-width="0.15" >2</text>
<line x1="39.9" y1="365.6" x2="42.7" y2="365.6" stroke="#1a1a1a" stroke-width="0.9"/>
<text x="36.8" y="367.69" font-size="5.8" text-anchor="end" fill="#33578c" stroke="#33578c" stroke-width="0.15" textLength="21" lengthAdjust="spacingAndGlyphs" >AlloSCT</text>
<text x="52" y="367.71" font-size="6" text-anchor="middle" fill="#333" stroke="#333" stroke-width="0.15" >97</text>
<text x="67.77" y="367.71" font-size="6" text-anchor="middle" fill="#333" stroke="#333" stroke-width="0.15" >88</text>
<text x="83.54" y="367.71" font-size="6" text-anchor="middle" fill="#333" stroke="#333" stroke-width="0.15" >73</text>
<text x="99.31" y="367.71" font-size="6" text-anchor="middle" fill="#333" stroke="#333" stroke-width="0.15" >61</text>
<text x="115.08" y="367.71" font-size="6" text-anchor="middle" fill="#333" stroke="#333" stroke-width="0.15" >50</text>
<text x="130.85" y="367.71" font-size="6" text-anchor="middle" fill="#333" stroke="#333" stroke-width="0.15" >41</text>
<text x="146.62" y="367.71" font-size="6" text-anchor="middle" fill="#333" stroke="#333" stroke-width="0.15" >35</text>
<text x="162.39" y="367.71" font-size="6" text-anchor="middle" fill="#333" stroke="#333" stroke-width="0.15" >27</text>
<text x="178.16" y="367.71" font-size="6" text-anchor="middle" fill="#333" stroke="#333" stroke-width="0.15" >20</text>
<text x="193.93" y="367.71" font-size="6" text-anchor="middle" fill="#333" stroke="#333" stroke-width="0.15" >14</text>
<text x="209.7" y="367.71" font-size="6" text-anchor="middle" fill="#333" stroke="#333" stroke-width="0.15" >10</text>
<text x="225.47" y="367.71" font-size="6" text-anchor="middle" fill="#333" stroke="#333" stroke-width="0.15" >5</text>
<text x="241.24" y="367.71" font-size="6" text-anchor="middle" fill="#333" stroke="#333" stroke-width="0.15" >3</text>
<line x1="52" y1="372.3" x2="52" y2="375.1" stroke="#1a1a1a" stroke-width="0.9"/>
<text x="52" y="383.36" font-size="6" text-anchor="middle" fill="#3a3a3a" stroke="#3a3a3a" stroke-width="0.15" >0</text>
<line x1="67.77" y1="372.3" x2="67.77" y2="375.1" stroke="#1a1a1a" stroke-width="0.9"/>
<text x="67.77" y="383.36" font-size="6" text-anchor="middle" fill="#3a3a3a" stroke="#3a3a3a" stroke-width="0.15" >10</text>
<line x1="83.54" y1="372.3" x2="83.54" y2="375.1" stroke="#1a1a1a" stroke-width="0.9"/>
<text x="83.54" y="383.36" font-size="6" text-anchor="middle" fill="#3a3a3a" stroke="#3a3a3a" stroke-width="0.15" >20</text>
<line x1="99.31" y1="372.3" x2="99.31" y2="375.1" stroke="#1a1a1a" stroke-width="0.9"/>
<text x="99.31" y="383.36" font-size="6" text-anchor="middle" fill="#3a3a3a" stroke="#3a3a3a" stroke-width="0.15" >30</text>
<line x1="115.08" y1="372.3" x2="115.08" y2="375.1" stroke="#1a1a1a" stroke-width="0.9"/>
<text x="115.08" y="383.36" font-size="6" text-anchor="middle" fill="#3a3a3a" stroke="#3a3a3a" stroke-width="0.15" >40</text>
<line x1="130.85" y1="372.3" x2="130.85" y2="375.1" stroke="#1a1a1a" stroke-width="0.9"/>
<text x="130.85" y="383.36" font-size="6" text-anchor="middle" fill="#3a3a3a" stroke="#3a3a3a" stroke-width="0.15" >50</text>
<line x1="146.62" y1="372.3" x2="146.62" y2="375.1" stroke="#1a1a1a" stroke-width="0.9"/>
<text x="146.62" y="383.36" font-size="6" text-anchor="middle" fill="#3a3a3a" stroke="#3a3a3a" stroke-width="0.15" >60</text>
<line x1="162.39" y1="372.3" x2="162.39" y2="375.1" stroke="#1a1a1a" stroke-width="0.9"/>
<text x="162.39" y="383.36" font-size="6" text-anchor="middle" fill="#3a3a3a" stroke="#3a3a3a" stroke-width="0.15" >70</text>
<line x1="178.16" y1="372.3" x2="178.16" y2="375.1" stroke="#1a1a1a" stroke-width="0.9"/>
<text x="178.16" y="383.36" font-size="6" text-anchor="middle" fill="#3a3a3a" stroke="#3a3a3a" stroke-width="0.15" >80</text>
<line x1="193.93" y1="372.3" x2="193.93" y2="375.1" stroke="#1a1a1a" stroke-width="0.9"/>
<text x="193.93" y="383.36" font-size="6" text-anchor="middle" fill="#3a3a3a" stroke="#3a3a3a" stroke-width="0.15" >90</text>
<line x1="209.7" y1="372.3" x2="209.7" y2="375.1" stroke="#1a1a1a" stroke-width="0.9"/>
<text x="209.7" y="383.36" font-size="6" text-anchor="middle" fill="#3a3a3a" stroke="#3a3a3a" stroke-width="0.15" >100</text>
<line x1="225.47" y1="372.3" x2="225.47" y2="375.1" stroke="#1a1a1a" stroke-width="0.9"/>
<text x="225.47" y="383.36" font-size="6" text-anchor="middle" fill="#3a3a3a" stroke="#3a3a3a" stroke-width="0.15" >110</text>
<line x1="241.24" y1="372.3" x2="241.24" y2="375.1" stroke="#1a1a1a" stroke-width="0.9"/>
<text x="241.24" y="383.36" font-size="6" text-anchor="middle" fill="#3a3a3a" stroke="#3a3a3a" stroke-width="0.15" >120</text>
<text x="265.2" y="214.2" font-size="10.5" text-anchor="start" fill="#111" stroke="#111" stroke-width="0.15" font-weight="bold" >D</text>
<line x1="301.5" y1="222" x2="301.5" y2="313.05" stroke="#1a1a1a" stroke-width="1.25"/>
<line x1="300.9" y1="312.4" x2="508.9" y2="312.4" stroke="#1a1a1a" stroke-width="1.3"/>
<line x1="299.1" y1="226.7" x2="301.5" y2="226.7" stroke="#1a1a1a" stroke-width="0.9"/>
<text x="296.2" y="228.61" font-size="6" text-anchor="end" fill="#3a3a3a" stroke="#3a3a3a" stroke-width="0.15" >1.0</text>
<line x1="299.1" y1="234.87" x2="301.5" y2="234.87" stroke="#1a1a1a" stroke-width="0.9"/>
<text x="296.2" y="236.78" font-size="6" text-anchor="end" fill="#3a3a3a" stroke="#3a3a3a" stroke-width="0.15" >0.9</text>
<line x1="299.1" y1="243.04" x2="301.5" y2="243.04" stroke="#1a1a1a" stroke-width="0.9"/>
<text x="296.2" y="244.95" font-size="6" text-anchor="end" fill="#3a3a3a" stroke="#3a3a3a" stroke-width="0.15" >0.8</text>
<line x1="299.1" y1="251.21" x2="301.5" y2="251.21" stroke="#1a1a1a" stroke-width="0.9"/>
<text x="296.2" y="253.12" font-size="6" text-anchor="end" fill="#3a3a3a" stroke="#3a3a3a" stroke-width="0.15" >0.7</text>
<line x1="299.1" y1="259.38" x2="301.5" y2="259.38" stroke="#1a1a1a" stroke-width="0.9"/>
<text x="296.2" y="261.29" font-size="6" text-anchor="end" fill="#3a3a3a" stroke="#3a3a3a" stroke-width="0.15" >0.6</text>
<line x1="299.1" y1="267.55" x2="301.5" y2="267.55" stroke="#1a1a1a" stroke-width="0.9"/>
<text x="296.2" y="269.46" font-size="6" text-anchor="end" fill="#3a3a3a" stroke="#3a3a3a" stroke-width="0.15" >0.5</text>
<line x1="299.1" y1="275.72" x2="301.5" y2="275.72" stroke="#1a1a1a" stroke-width="0.9"/>
<text x="296.2" y="277.63" font-size="6" text-anchor="end" fill="#3a3a3a" stroke="#3a3a3a" stroke-width="0.15" >0.4</text>
<line x1="299.1" y1="283.89" x2="301.5" y2="283.89" stroke="#1a1a1a" stroke-width="0.9"/>
<text x="296.2" y="285.8" font-size="6" text-anchor="end" fill="#3a3a3a" stroke="#3a3a3a" stroke-width="0.15" >0.3</text>
<line x1="299.1" y1="292.06" x2="301.5" y2="292.06" stroke="#1a1a1a" stroke-width="0.9"/>
<text x="296.2" y="293.97" font-size="6" text-anchor="end" fill="#3a3a3a" stroke="#3a3a3a" stroke-width="0.15" >0.2</text>
<line x1="299.1" y1="300.23" x2="301.5" y2="300.23" stroke="#1a1a1a" stroke-width="0.9"/>
<text x="296.2" y="302.14" font-size="6" text-anchor="end" fill="#3a3a3a" stroke="#3a3a3a" stroke-width="0.15" >0.1</text>
<line x1="299.1" y1="308.4" x2="301.5" y2="308.4" stroke="#1a1a1a" stroke-width="0.9"/>
<text x="296.2" y="310.31" font-size="6" text-anchor="end" fill="#3a3a3a" stroke="#3a3a3a" stroke-width="0.15" >0.0</text>
<line x1="310.7" y1="312.4" x2="310.7" y2="315.1" stroke="#1a1a1a" stroke-width="0.9"/>
<text x="310.7" y="323.56" font-size="6" text-anchor="middle" fill="#3a3a3a" stroke="#3a3a3a" stroke-width="0.15" >0</text>
<line x1="342.1" y1="312.4" x2="342.1" y2="315.1" stroke="#1a1a1a" stroke-width="0.9"/>
<text x="342.1" y="323.56" font-size="6" text-anchor="middle" fill="#3a3a3a" stroke="#3a3a3a" stroke-width="0.15" >10</text>
<line x1="373.5" y1="312.4" x2="373.5" y2="315.1" stroke="#1a1a1a" stroke-width="0.9"/>
<text x="373.5" y="323.56" font-size="6" text-anchor="middle" fill="#3a3a3a" stroke="#3a3a3a" stroke-width="0.15" >20</text>
<line x1="404.9" y1="312.4" x2="404.9" y2="315.1" stroke="#1a1a1a" stroke-width="0.9"/>
<text x="404.9" y="323.56" font-size="6" text-anchor="middle" fill="#3a3a3a" stroke="#3a3a3a" stroke-width="0.15" >30</text>
<line x1="436.3" y1="312.4" x2="436.3" y2="315.1" stroke="#1a1a1a" stroke-width="0.9"/>
<text x="436.3" y="323.56" font-size="6" text-anchor="middle" fill="#3a3a3a" stroke="#3a3a3a" stroke-width="0.15" >40</text>
<line x1="467.7" y1="312.4" x2="467.7" y2="315.1" stroke="#1a1a1a" stroke-width="0.9"/>
<text x="467.7" y="323.56" font-size="6" text-anchor="middle" fill="#3a3a3a" stroke="#3a3a3a" stroke-width="0.15" >50</text>
<line x1="499.1" y1="312.4" x2="499.1" y2="315.1" stroke="#1a1a1a" stroke-width="0.9"/>
<text x="499.1" y="323.56" font-size="6" text-anchor="middle" fill="#3a3a3a" stroke="#3a3a3a" stroke-width="0.15" >60</text>
<text x="407.5" y="335.11" font-size="7.8" text-anchor="middle" fill="#222" stroke="#222" stroke-width="0.05" font-weight="bold" textLength="17.5" lengthAdjust="spacingAndGlyphs" >Months</text>
<text x="0" y="0" font-size="6.5" text-anchor="middle" fill="#2a2a2a" stroke="#2a2a2a" stroke-width="0.28" textLength="76.5" lengthAdjust="spacingAndGlyphs" transform="translate(282.2,267.2) rotate(-90)">Post progression survival (PPS)</text>
<polyline points="310.2,227.2 314.2,227.5 321.1,227.5 323.5,228.7 328.1,229 329.8,230.4 334.4,230.6 336.1,233.3 341.9,233.8 344.2,235.6 347.1,237.3 350,239.6 351.7,242 358.8,242.8 363.7,243.1 373.3,243.1 374.2,244.7 377.7,246 391.2,246.4 391.8,248.5 403.3,248.9 407.3,249.5 420.8,249.5 421.4,251.4 459.2,251.5 459.7,253.5 465.4,253.5 465.8,256 509.2,256.2" fill="none" stroke="#44596e" stroke-width="1.1" stroke-linejoin="miter"/>
<polyline points="310.2,227.2 316.5,230.4 322.3,232.5 328.1,235 332.1,237.1 334.4,238.5 339.6,239.6 345.4,240.8 351.1,241.9 356.9,242.5 363.7,244 370.4,245.2 374.2,245.2 377.7,246.2 391.2,246.9 391.8,248.6 401.9,249 408.6,250.5 412.7,251.2 415.4,252.2 420.8,252.9 428.8,253.2 435.6,253.8 440,254.6 453.8,254.6 455.4,255.7 475.4,256.2 476.2,258.2 487.7,258.5 490,261.2 509.2,261.2" fill="none" stroke="#aa2d4e" stroke-width="1.1" stroke-linejoin="miter"/>
<text x="311.1" y="268.46" font-size="6" text-anchor="start" fill="#333" stroke="#333" stroke-width="0.15" font-style="italic" textLength="19.8" lengthAdjust="spacingAndGlyphs" >P = .58</text>
<text x="301.5" y="344.79" font-size="5.8" text-anchor="start" fill="#2a2a2a" stroke="#2a2a2a" stroke-width="0.15" textLength="37" lengthAdjust="spacingAndGlyphs" >Number at risk</text>
<line x1="301.5" y1="349.2" x2="301.5" y2="372.95" stroke="#1a1a1a" stroke-width="1.25"/>
<line x1="300.9" y1="372.3" x2="508.4" y2="372.3" stroke="#1a1a1a" stroke-width="1.3"/>
<line x1="298.7" y1="356.2" x2="301.5" y2="356.2" stroke="#1a1a1a" stroke-width="0.9"/>
<text x="295.6" y="358.29" font-size="5.8" text-anchor="end" fill="#c02a4c" stroke="#c02a4c" stroke-width="0.15" textLength="30.5" lengthAdjust="spacingAndGlyphs" >No AlloSCT</text>
<text x="310.7" y="358.31" font-size="6" text-anchor="middle" fill="#333" stroke="#333" stroke-width="0.15" >295</text>
<text x="342.1" y="358.31" font-size="6" text-anchor="middle" fill="#333" stroke="#333" stroke-width="0.15" >206</text>
<text x="373.5" y="358.31" font-size="6" text-anchor="middle" fill="#333" stroke="#333" stroke-width="0.15" >162</text>
<text x="404.9" y="358.31" font-size="6" text-anchor="middle" fill="#333" stroke="#333" stroke-width="0.15" >128</text>
<text x="436.3" y="358.31" font-size="6" text-anchor="middle" fill="#333" stroke="#333" stroke-width="0.15" >99</text>
<text x="467.7" y="358.31" font-size="6" text-anchor="middle" fill="#333" stroke="#333" stroke-width="0.15" >84</text>
<text x="499.1" y="358.31" font-size="6" text-anchor="middle" fill="#333" stroke="#333" stroke-width="0.15" >65</text>
<line x1="298.7" y1="366.3" x2="301.5" y2="366.3" stroke="#1a1a1a" stroke-width="0.9"/>
<text x="295.6" y="368.39" font-size="5.8" text-anchor="end" fill="#33578c" stroke="#33578c" stroke-width="0.15" textLength="21" lengthAdjust="spacingAndGlyphs" >AlloSCT</text>
<text x="310.7" y="368.41" font-size="6" text-anchor="middle" fill="#333" stroke="#333" stroke-width="0.15" >54</text>
<text x="342.1" y="368.41" font-size="6" text-anchor="middle" fill="#333" stroke="#333" stroke-width="0.15" >49</text>
<text x="373.5" y="368.41" font-size="6" text-anchor="middle" fill="#333" stroke="#333" stroke-width="0.15" >40</text>
<text x="404.9" y="368.41" font-size="6" text-anchor="middle" fill="#333" stroke="#333" stroke-width="0.15" >33</text>
<text x="436.3" y="368.41" font-size="6" text-anchor="middle" fill="#333" stroke="#333" stroke-width="0.15" >28</text>
<text x="467.7" y="368.41" font-size="6" text-anchor="middle" fill="#333" stroke="#333" stroke-width="0.15" >21</text>
<text x="499.1" y="368.41" font-size="6" text-anchor="middle" fill="#333" stroke="#333" stroke-width="0.15" >19</text>
<line x1="310.7" y1="372.3" x2="310.7" y2="375.1" stroke="#1a1a1a" stroke-width="0.9"/>
<text x="310.7" y="383.46" font-size="6" text-anchor="middle" fill="#3a3a3a" stroke="#3a3a3a" stroke-width="0.15" >0</text>
<line x1="342.1" y1="372.3" x2="342.1" y2="375.1" stroke="#1a1a1a" stroke-width="0.9"/>
<text x="342.1" y="383.46" font-size="6" text-anchor="middle" fill="#3a3a3a" stroke="#3a3a3a" stroke-width="0.15" >10</text>
<line x1="373.5" y1="372.3" x2="373.5" y2="375.1" stroke="#1a1a1a" stroke-width="0.9"/>
<text x="373.5" y="383.46" font-size="6" text-anchor="middle" fill="#3a3a3a" stroke="#3a3a3a" stroke-width="0.15" >20</text>
<line x1="404.9" y1="372.3" x2="404.9" y2="375.1" stroke="#1a1a1a" stroke-width="0.9"/>
<text x="404.9" y="383.46" font-size="6" text-anchor="middle" fill="#3a3a3a" stroke="#3a3a3a" stroke-width="0.15" >30</text>
<line x1="436.3" y1="372.3" x2="436.3" y2="375.1" stroke="#1a1a1a" stroke-width="0.9"/>
<text x="436.3" y="383.46" font-size="6" text-anchor="middle" fill="#3a3a3a" stroke="#3a3a3a" stroke-width="0.15" >40</text>
<line x1="467.7" y1="372.3" x2="467.7" y2="375.1" stroke="#1a1a1a" stroke-width="0.9"/>
<text x="467.7" y="383.46" font-size="6" text-anchor="middle" fill="#3a3a3a" stroke="#3a3a3a" stroke-width="0.15" >50</text>
<line x1="499.1" y1="372.3" x2="499.1" y2="375.1" stroke="#1a1a1a" stroke-width="0.9"/>
<text x="499.1" y="383.46" font-size="6" text-anchor="middle" fill="#3a3a3a" stroke="#3a3a3a" stroke-width="0.15" >60</text>
</svg>
</body></html>
